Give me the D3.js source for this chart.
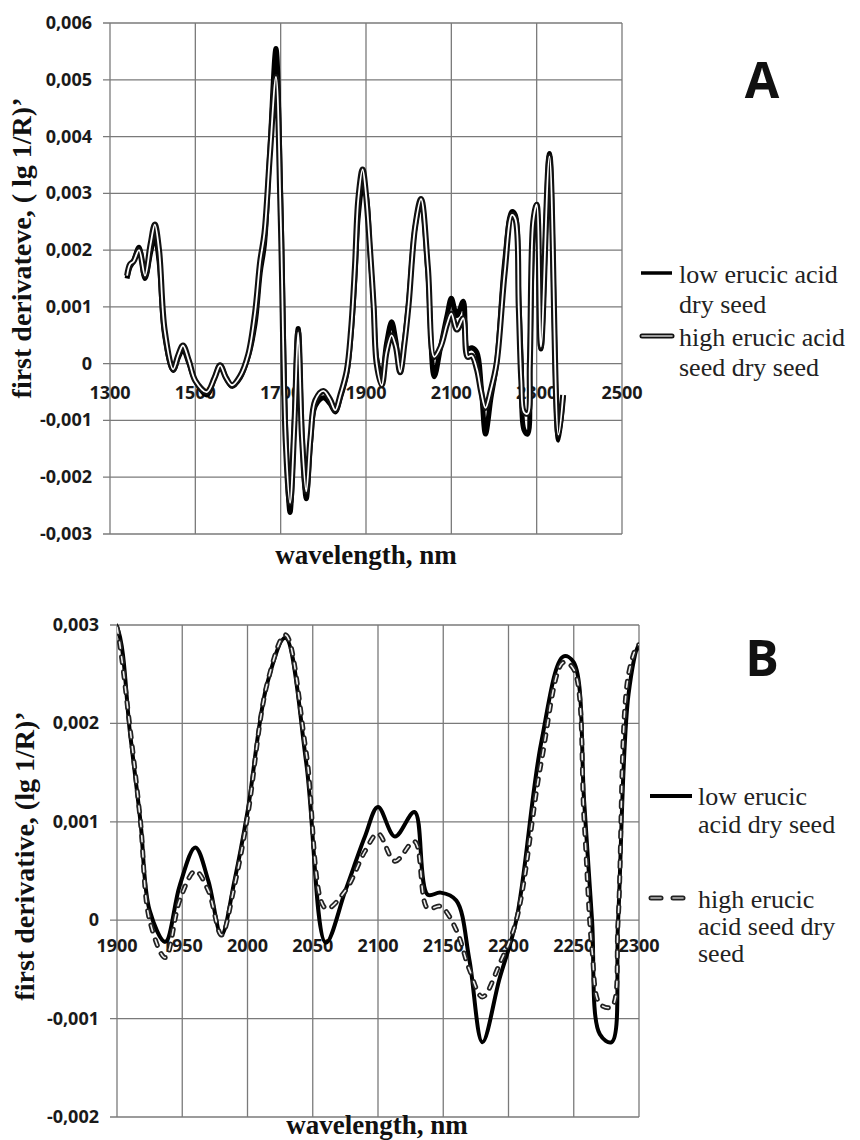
<!DOCTYPE html>
<html>
<head>
<meta charset="utf-8">
<script src="https://cdnjs.cloudflare.com/ajax/libs/d3/7.8.5/d3.min.js"></script>
<style>
	body { margin: 0; background: #fff; }
	svg { display: block; }
</style>
</head>
<body>
<div id="chart"></div>
<script>
// spectra (nm, first derivative of lg 1/R)
var wavelength = [1340,1347,1355,1368,1382,1395,1405,1415,1428,1448,1460,1471,1485,1500,1527,1545,1558,1572,1586,1605,1624,1640,1652,1662,1675,1689,1700,1712,1722,1732,1741,1750,1760,1770,1781,1800,1815,1828,1840,1855,1865,1874,1882,1892,1900,1910,1918,1925,1937,1948,1960,1970,1980,1990,2000,2015,2029,2045,2060,2075,2090,2100,2113,2128,2138,2148,2160,2170,2180,2193,2206,2225,2242,2250,2258,2264,2270,2279,2284,2292,2300,2310,2330,2351,2362];
var low_erucic = [0.00150,0.00170,0.00180,0.00205,0.00150,0.00195,0.00225,0.00180,0.00050,-0.00012,0.00010,0.00025,0.00000,-0.00030,-0.00055,-0.00025,-0.00003,-0.00025,-0.00040,-0.00025,0.00012,0.00070,0.00160,0.00210,0.00380,0.00555,0.00300,-0.00120,-0.00262,-0.00100,0.00062,-0.00120,-0.00238,-0.00140,-0.00075,-0.00060,-0.00070,-0.00085,-0.00060,-0.00018,0.00050,0.00150,0.00260,0.00310,0.00298,0.00190,0.00100,0.00010,-0.00022,0.00035,0.00074,0.00040,-0.00015,0.00040,0.00110,0.00240,0.00287,0.00160,-0.00023,0.00030,0.00085,0.00115,0.00085,0.00110,0.00026,0.00028,0.00020,-0.00040,-0.00124,-0.00060,0.00000,0.00180,0.00268,0.00262,0.00120,0.00000,-0.00116,-0.00124,0.00000,0.00230,0.00280,0.00026,0.00370,-0.00135,-0.00056];
var high_erucic = [0.00155,0.00175,0.00180,0.00200,0.00155,0.00210,0.00245,0.00200,0.00060,-0.00010,0.00015,0.00032,0.00005,-0.00030,-0.00050,-0.00025,-0.00003,-0.00025,-0.00038,-0.00022,0.00016,0.00090,0.00180,0.00230,0.00370,0.00505,0.00260,-0.00140,-0.00245,-0.00110,0.00055,-0.00130,-0.00225,-0.00130,-0.00065,-0.00048,-0.00062,-0.00082,-0.00055,-0.00012,0.00060,0.00170,0.00290,0.00342,0.00298,0.00195,0.00100,0.00000,-0.00038,0.00020,0.00050,0.00030,-0.00015,0.00035,0.00105,0.00240,0.00290,0.00170,0.00012,0.00030,0.00070,0.00088,0.00060,0.00080,0.00012,0.00014,-0.00010,-0.00050,-0.00078,-0.00045,0.00000,0.00160,0.00262,0.00255,0.00100,-0.00030,-0.00085,-0.00088,0.00000,0.00250,0.00280,0.00030,0.00365,-0.00125,-0.00055];

var x_ticks_a = [1300,1500,1700,1900,2100,2300,2500];
var y_ticks_a = [-0.003,-0.002,-0.001,0,0.001,0.002,0.003,0.004,0.005,0.006];
var x_ticks_b = [1900,1950,2000,2050,2100,2150,2200,2250,2300];
var y_ticks_b = [-0.002,-0.001,0,0.001,0.002,0.003];

var legend_low_a  = ['low erucic acid', 'dry seed'];
var legend_high_a = ['high erucic acid', 'seed dry seed'];
var legend_low_b  = ['low erucic', 'acid dry seed'];
var legend_high_b = ['high erucic', 'acid seed dry', 'seed'];

var svg = d3.select('#chart')
	.append('svg')
	.attr('width', 860)
	.attr('height', 1140);

var comma = d3.formatLocale({ decimal: ',', thousands: ' ', grouping: [3], currency: ['', ''], minus: '-' }).format('.3f');
function fmt(d){ return d === 0 ? '0' : comma(d); }

var tick_font = '"Open Sans", sans-serif';
var serif = '"Liberation Serif", "Times New Roman", serif';

function series(values, lo, hi){
	return wavelength.map(function(w, i){ return { x: w, y: values[i] }; })
		.filter(function(d){ return d.x >= lo && d.x <= hi; });
}

function draw_panel(p){
	var g = svg.append('g');
	var x_scale = d3.scaleLinear().domain(p.x_domain).range([p.left, p.right]);
	var y_scale = d3.scaleLinear().domain(p.y_domain).range([p.bottom, p.top]);

	// grid
	g.selectAll('.hgrid').data(p.y_ticks).enter().append('line')
		.attr('x1', p.left - 7).attr('x2', p.right)
		.attr('y1', function(d){ return y_scale(d); })
		.attr('y2', function(d){ return y_scale(d); })
		.attr('stroke', '#7a7a7a').attr('stroke-width', 1.3);
	g.selectAll('.vgrid').data(p.x_ticks).enter().append('line')
		.attr('x1', function(d){ return x_scale(d); })
		.attr('x2', function(d){ return x_scale(d); })
		.attr('y1', p.top).attr('y2', p.bottom)
		.attr('stroke', '#7a7a7a').attr('stroke-width', 1.3);

	// y tick labels
	g.selectAll('.ylab').data(p.y_ticks).enter().append('text')
		.text(fmt)
		.attr('x', p.left - 18)
		.attr('y', function(d){ return y_scale(d) + 6; })
		.attr('text-anchor', 'end')
		.attr('font-family', tick_font).attr('font-weight', 700)
		.attr('font-size', 18).attr('fill', '#1a1a1a');

	// x tick labels sit under the zero line
	g.selectAll('.xlab').data(p.x_ticks).enter().append('text')
		.text(function(d){ return d; })
		.attr('x', function(d){ return x_scale(d); })
		.attr('y', y_scale(0) + p.xlab_dy)
		.attr('text-anchor', 'middle')
		.attr('font-family', tick_font).attr('font-weight', 700)
		.attr('font-size', 18).attr('fill', '#1a1a1a');

	// clip
	var clip_id = 'clip' + p.name;
	g.append('clipPath').attr('id', clip_id).append('rect')
		.attr('x', p.left).attr('y', p.top - 3)
		.attr('width', p.right - p.left).attr('height', p.bottom - p.top + 3);

	var line = d3.line()
		.x(function(d){ return x_scale(d.x); })
		.y(function(d){ return y_scale(d.y); })
		.curve(d3.curveCatmullRom.alpha(0.5));

	var lines = g.append('g').attr('clip-path', 'url(#' + clip_id + ')');
	var low = series(low_erucic, p.x_domain[0] - 15, p.x_domain[1] + 15);
	var high = series(high_erucic, p.x_domain[0] - 15, p.x_domain[1] + 15);
	p.draw_low(lines.append('path').datum(low).attr('d', line));
	p.draw_high_outer(lines.append('path').datum(high).attr('d', line));
	p.draw_high_inner(lines.append('path').datum(high).attr('d', line));

	// axis titles
	g.append('text')
		.text(p.x_title)
		.attr('x', p.x_title_x).attr('y', p.x_title_y)
		.attr('text-anchor', 'middle')
		.attr('font-family', serif).attr('font-weight', 700)
		.attr('font-size', 27).attr('fill', '#111');
	g.append('text')
		.text(p.y_title)
		.attr('transform', 'translate(' + p.y_title_x + ',' + p.y_title_y + ') rotate(-90)')
		.attr('text-anchor', 'middle')
		.attr('font-family', serif).attr('font-weight', 700)
		.attr('font-size', 28).attr('fill', '#111');

	// panel letter
	g.append('text')
		.text(p.name)
		.attr('x', 762).attr('y', p.letter_y)
		.attr('text-anchor', 'middle')
		.attr('font-family', tick_font).attr('font-weight', 700)
		.attr('font-size', 50).attr('fill', '#111');

	return g;
}

function legend_text(g, lines, x, y, step){
	g.selectAll(null).data(lines).enter().append('text')
		.text(function(d){ return d; })
		.attr('x', x)
		.attr('y', function(d, i){ return y + i * step; })
		.attr('font-family', serif).attr('font-size', 26).attr('fill', '#222');
}

// Panel A: full spectrum
var ga = draw_panel({
	name: 'A',
	x_domain: [1300, 2500], y_domain: [-0.003, 0.006],
	left: 110, right: 622, top: 23, bottom: 534,
	x_ticks: x_ticks_a, y_ticks: y_ticks_a, xlab_dy: 35,
	x_title: 'wavelength, nm', x_title_x: 366, x_title_y: 564,
	y_title: 'first derivateve, ( lg 1/R)\u2019', y_title_x: 31, y_title_y: 248,
	letter_y: 98,
	draw_low: function(s){ s.attr('fill', 'none').attr('stroke', '#000').attr('stroke-width', 5).attr('stroke-linejoin', 'round'); },
	draw_high_outer: function(s){ s.attr('fill', 'none').attr('stroke', '#111').attr('stroke-width', 6).attr('stroke-linejoin', 'round'); },
	draw_high_inner: function(s){ s.attr('fill', 'none').attr('stroke', '#fff').attr('stroke-width', 1.8).attr('stroke-linejoin', 'round'); }
});

ga.append('line').attr('x1', 641).attr('x2', 672).attr('y1', 273).attr('y2', 273)
	.attr('stroke', '#000').attr('stroke-width', 3.5);
ga.append('line').attr('x1', 642).attr('x2', 672).attr('y1', 336).attr('y2', 336)
	.attr('stroke', '#111').attr('stroke-width', 5).attr('stroke-linecap', 'round');
ga.append('line').attr('x1', 642).attr('x2', 672).attr('y1', 336).attr('y2', 336)
	.attr('stroke', '#ccc').attr('stroke-width', 1.6).attr('stroke-linecap', 'round');
legend_text(ga, legend_low_a, 679, 283, 30);
legend_text(ga, legend_high_a, 679, 346, 30);

// Panel B: 1900-2300 nm detail
var gb = draw_panel({
	name: 'B',
	x_domain: [1900, 2300], y_domain: [-0.002, 0.003],
	left: 117, right: 639, top: 625, bottom: 1117,
	x_ticks: x_ticks_b, y_ticks: y_ticks_b, xlab_dy: 32,
	x_title: 'wavelength, nm', x_title_x: 377, x_title_y: 1134,
	y_title: 'first derivative, (lg 1/R)\u2019', y_title_x: 34, y_title_y: 856,
	letter_y: 676,
	draw_low: function(s){ s.attr('fill', 'none').attr('stroke', '#000').attr('stroke-width', 4).attr('stroke-linejoin', 'round'); },
	draw_high_outer: function(s){ s.attr('fill', 'none').attr('stroke', '#222').attr('stroke-width', 5).attr('stroke-dasharray', '6,9').attr('stroke-linecap', 'round'); },
	draw_high_inner: function(s){ s.attr('fill', 'none').attr('stroke', '#eee').attr('stroke-width', 1.6).attr('stroke-dasharray', '6,9').attr('stroke-linecap', 'round'); }
});

gb.append('line').attr('x1', 650).attr('x2', 692).attr('y1', 796).attr('y2', 796)
	.attr('stroke', '#000').attr('stroke-width', 4);
[[651, 661], [673, 683]].forEach(function(seg){
	gb.append('line').attr('x1', seg[0]).attr('x2', seg[1]).attr('y1', 898).attr('y2', 898)
		.attr('stroke', '#222').attr('stroke-width', 5).attr('stroke-linecap', 'round');
	gb.append('line').attr('x1', seg[0]).attr('x2', seg[1]).attr('y1', 898).attr('y2', 898)
		.attr('stroke', '#bbb').attr('stroke-width', 1.6).attr('stroke-linecap', 'round');
});
legend_text(gb, legend_low_b, 698, 805, 28);
legend_text(gb, legend_high_b, 698, 908, 27);
</script>
</body>
</html>
